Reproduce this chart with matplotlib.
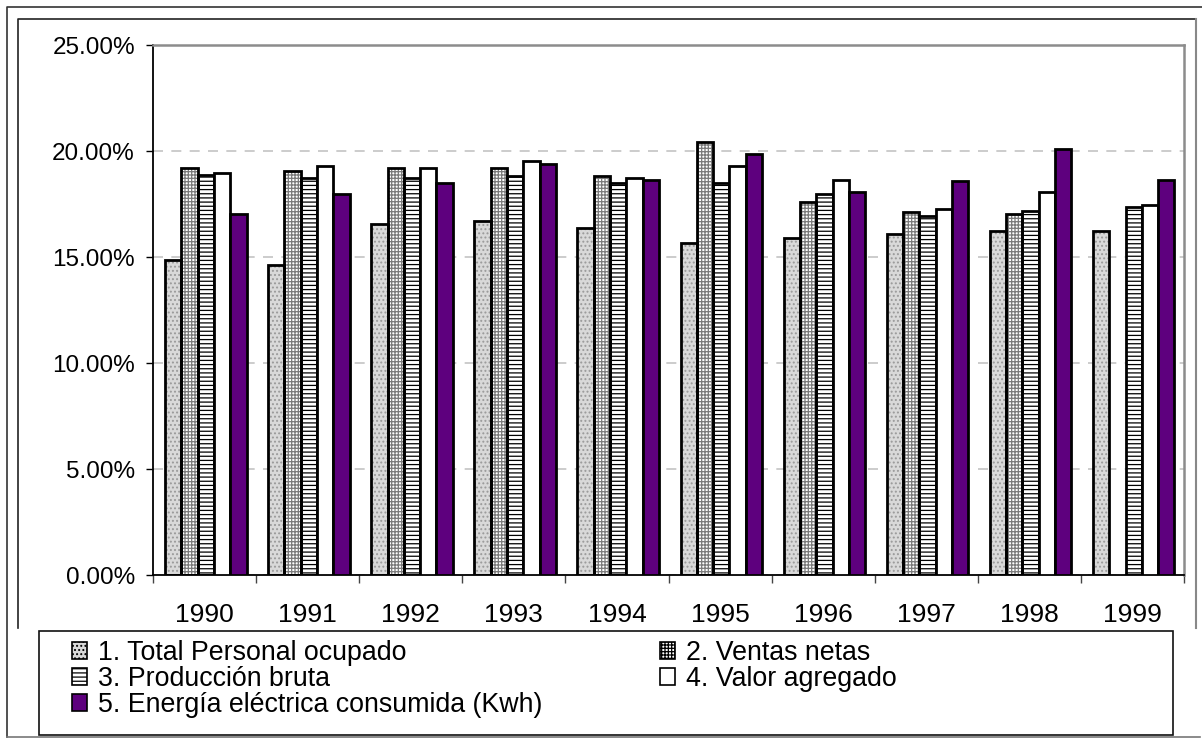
import numpy as np
import matplotlib
matplotlib.use("Agg")
from matplotlib import pyplot as plt
from matplotlib.patches import Patch, Rectangle

plt.rcParams['font.family'] = ['Liberation Sans', 'DejaVu Sans']
plt.rcParams['hatch.linewidth'] = 0.9

years = ['1990', '1991', '1992', '1993', '1994', '1995', '1996', '1997', '1998', '1999']
labels = ['1. Total Personal ocupado', '2. Ventas netas', '3. Producción bruta',
          '4. Valor agregado', '5. Energía eléctrica consumida (Kwh)']

# participation (%) by year
personal = [14.86, 14.62, 16.56, 16.70, 16.35, 15.65, 15.91, 16.10, 16.23, 16.23]
ventas = [19.18, 19.07, 19.18, 19.18, 18.84, 20.42, 17.59, 17.14, 17.01, np.nan]
produccion = [18.87, 18.74, 18.74, 18.84, 18.51, 18.51, 17.96, 16.93, 17.16, 17.37]
valor = [18.95, 19.31, 19.18, 19.51, 18.73, 19.31, 18.62, 17.25, 18.05, 17.47]
energia = [17.01, 17.96, 18.51, 19.40, 18.62, 19.84, 18.05, 18.60, 20.09, 18.62]

series = [personal, ventas, produccion, valor, energia]
# face, hatch, hatch colour
styles = [('#d9d9d9', '....', '#9a9a9a'),
          ('#ffffff', '+++++', '#7a7a7a'),
          ('#ffffff', '----', '#000000'),
          ('#ffffff', None, None),
          ('#5e007e', None, None)]

W, H = 1202, 740
fig = plt.figure(figsize=(W / 100, H / 100), dpi=100)

# frames around the chart (pixel coordinates)
bg = fig.add_axes([0, 0, 1, 1])
bg.set_xlim(0, W)
bg.set_ylim(H, 0)
bg.axis('off')
bg.plot([7, 7, 1202], [737, 7, 7], color='#333333', lw=1.2)
bg.plot([7, 1200], [737, 737], color='#777777', lw=1.2)
bg.plot([18, 18, 1196], [628, 19, 19], color='#222222', lw=1.2)
bg.plot([1196, 1196], [19, 628], color='#888888', lw=1.5)
bg.add_patch(Rectangle((39, 631), 1173 - 39, 735 - 631, fill=False, ec='#111111', lw=1.2))

ax = fig.add_axes([153 / W, 1 - 575 / H, (1184 - 153) / W, (575 - 45) / H])
x = np.arange(len(years))
bw = 0.158
for i, (vals, st) in enumerate(zip(series, styles)):
    pos = x + (i - 2) * bw + 0.012
    face, hatch, hc = st
    if hatch:
        ax.bar(pos, vals, bw, color=face, hatch=hatch, edgecolor=hc, linewidth=0, zorder=2)
        ax.bar(pos, vals, bw, fill=False, edgecolor='black', linewidth=2, zorder=3)
    else:
        ax.bar(pos, vals, bw, color=face, edgecolor='black', linewidth=2, zorder=3)

ax.set_xlim(-0.5, len(years) - 0.5)
ax.set_ylim(0, 25)
ax.set_yticks(np.arange(0, 26, 5))
ax.set_yticklabels([f'{v:.2f}%' for v in np.arange(0, 26, 5)])
ax.yaxis.grid(True, color='#c4c4c4', linestyle=(0, (6, 5)), linewidth=1.2, zorder=0)
ax.set_axisbelow(True)

ax.set_xticks(np.arange(-0.5, len(years)))
ax.set_xticklabels([])
ax.set_xticks(x, minor=True)
ax.set_xticklabels(years, minor=True)
ax.tick_params(axis='x', which='major', length=6, width=1, direction='out', color='#444444')
ax.tick_params(axis='x', which='minor', length=0, pad=20, labelsize=19)
ax.tick_params(axis='y', length=5, width=1, pad=8, labelsize=17.5)

for s in ['left', 'bottom']:
    ax.spines[s].set_color('black')
    ax.spines[s].set_linewidth(1.3)
for s in ['top', 'right']:
    ax.spines[s].set_color('#8c8c8c')
    ax.spines[s].set_linewidth(1.8)


def handle(i):
    face, hatch, hc = styles[i]
    if hatch:
        return Patch(facecolor=face, hatch=hatch, edgecolor='black', linewidth=1.2)
    return Patch(facecolor=face, edgecolor='black', linewidth=1.2)


leg_kw = dict(frameon=False, fontsize=19.3, handlelength=0.56, handleheight=0.56,
              handletextpad=0.4, labelspacing=0, borderpad=0, borderaxespad=0,
              loc='upper left')
leg1 = fig.legend([handle(i) for i in (0, 2, 4)], [labels[i] for i in (0, 2, 4)],
                  bbox_to_anchor=(72 / W, 1 - 640 / H), **leg_kw)
leg2 = fig.legend([handle(i) for i in (1, 3)], [labels[i] for i in (1, 3)],
                  bbox_to_anchor=(660 / W, 1 - 640 / H), **leg_kw)

fig.savefig('out.png', dpi=100)
